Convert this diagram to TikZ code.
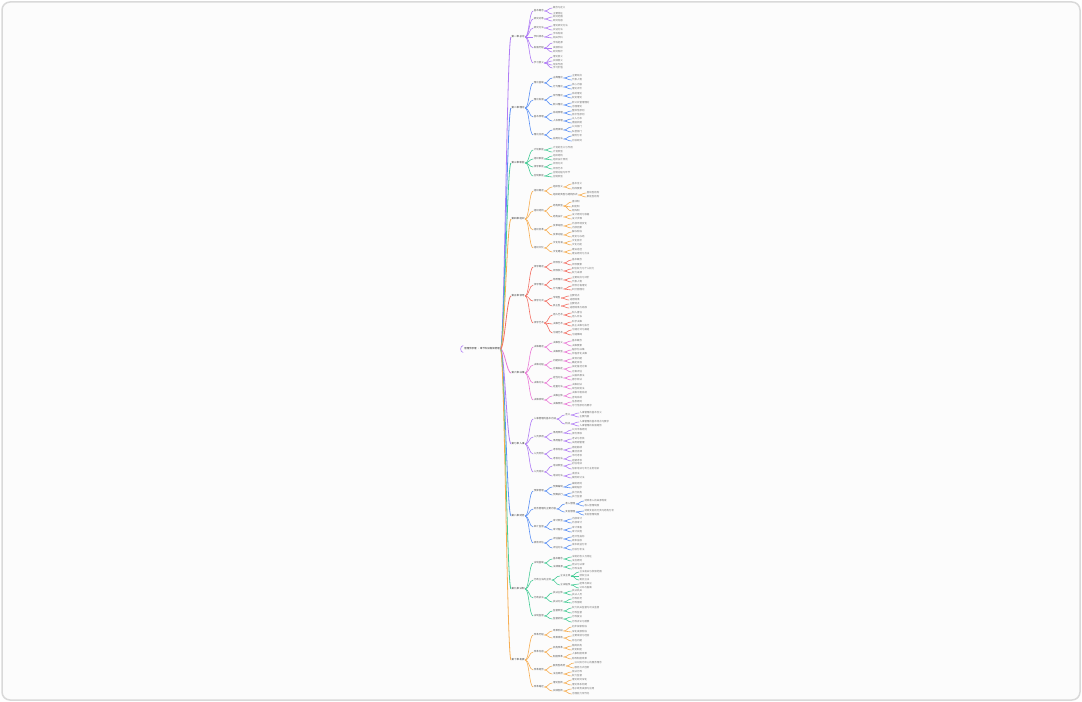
\documentclass[tikz,border=0pt]{standalone}
\usepackage{fontspec}
\setmainfont{Noto Sans CJK SC}
\usepackage{xcolor}
\usetikzlibrary{calc}
\definecolor{cpurple}{HTML}{B07CF5}
\definecolor{cblue}{HTML}{5A90F5}
\definecolor{cteal}{HTML}{45CC96}
\definecolor{corange}{HTML}{F7AE52}
\definecolor{cred}{HTML}{F36E62}
\definecolor{cpink}{HTML}{EA78D6}
\tikzset{
  rootnode/.style={anchor=east, inner sep=0.6mm, text=black!85, font=\fontsize{7}{8}\selectfont},
  mainnode/.style={anchor=west, inner sep=0.6mm, text=black!80, font=\fontsize{7}{8}\selectfont},
  subnode/.style={anchor=west, inner sep=0.6mm, text=black!65, font=\fontsize{7}{8}\selectfont},
  leafnode/.style={anchor=west, inner sep=0.6mm, text=black!55, font=\fontsize{7}{8}\selectfont},
  link/.style={draw=#1, line width=0.6mm, out=0, in=180, distance=4mm}
}
% children of a node: parent, colour, style, list of y/text
\newcommand\kids[4]{%
  \path (#1.east) ++(8,0) coordinate (nx);
  \foreach \y/\t [count=\i] in {#4} {
    \node[#3] (#1\i) at (nx |- 0,\y) {\t};
    \draw[link=#2] (#1) to (#1\i);
  }%
}

\begin{document}
\begin{tikzpicture}[x=1mm, y=-1mm]
\useasboundingbox (0,0) rectangle (1082,702);
\draw[draw=black!15, line width=1.5mm, rounded corners=8mm, fill=black!1] (2,2) rectangle (1080,700);

% root and main branches
\node[rootnode] (root) at (500.5,349) {管理学原理 · 章节知识框架梳理};
\draw[cpurple, line width=0.6mm] ([shift={(-0.5,-3.5)}]root.west) to[out=200,in=90] ([shift={(-3,0)}]root.west)
  to[out=-90,in=160] ([shift={(-0.5,3.5)}]root.west);
\node[mainnode] (brA) at (511,37) {第一章 总论};
\node[mainnode] (brB) at (511,108) {第二章 理论};
\node[mainnode] (brC) at (511,163) {第三章 职能};
\node[mainnode] (brD) at (511,219) {第四章 组织};
\node[mainnode] (brE) at (511,296) {第五章 领导};
\node[mainnode] (brF) at (511,373) {第六章 决策};
\node[mainnode] (brG) at (511,444) {第七章 人事};
\node[mainnode] (brH) at (511,516) {第八章 财务};
\node[mainnode] (brI) at (511,589) {第九章 法制};
\node[mainnode] (brJ) at (511,660) {第十章 发展};
\foreach \b/\c in {A/cpurple, B/cblue, C/cteal, D/corange, E/cred, F/cpink, G/cpurple, H/cblue, I/cteal, J/corange}
  \draw[link=\c, line width=0.8mm] (root) to (br\b);

% branch A
\kids{brA}{cpurple}{subnode}{11/基本概念, 19/研究对象, 28/研究方法, 37/学科体系, 48/发展历程, 63/学习意义}
\kids{brA1}{cpurple}{leafnode}{8/概念与定义, 14/主要特征}
\kids{brA2}{cpurple}{leafnode}{17/研究范围, 21/研究内容}
\kids{brA3}{cpurple}{leafnode}{26/理论研究方法, 30/实证方法}
\kids{brA4}{cpurple}{leafnode}{34/学科构成, 38/相关学科}
\kids{brA5}{cpurple}{leafnode}{43/学科起源, 48/发展阶段, 52/研究现状}
\kids{brA6}{cpurple}{leafnode}{57/理论意义, 61/实践意义, 65/现实作用, 68/学习价值}

% branch B
\kids{brB}{cblue}{subnode}{83/理论基础, 100/理论发展, 117/基本原理, 135/理论应用}
\kids{brB1}{cblue}{subnode}{78/古典理论, 87/行为理论}
\kids{brB2}{cblue}{subnode}{96/现代理论, 105/新兴理论}
\kids{brB3}{cblue}{subnode}{113/系统原理, 121/人本原理}
\kids{brB4}{cblue}{subnode}{130/应用领域, 139/应用方法}
\kids{brB11}{cblue}{leafnode}{76/主要观点, 80/代表人物}
\kids{brB12}{cblue}{leafnode}{85/核心内容, 89/理论评价}
\kids{brB21}{cblue}{leafnode}{94/系统理论, 98/权变理论}
\kids{brB22}{cblue}{leafnode}{103/新公共管理理论, 107/治理理论}
\kids{brB31}{cblue}{leafnode}{111/整体性原则, 115/层次性原则}
\kids{brB32}{cblue}{leafnode}{119/以人为本, 123/激励机制}
\kids{brB41}{cblue}{leafnode}{127/公共部门, 132/私营部门}
\kids{brB42}{cblue}{leafnode}{136/案例分析, 141/比较研究}

% branch C
\kids{brC}{cteal}{subnode}{150/计划职能, 159/组织职能, 167/领导职能, 176/控制职能}
\kids{brC1}{cteal}{leafnode}{148/计划的含义与作用, 152/计划类型}
\kids{brC2}{cteal}{leafnode}{156/组织结构, 160/组织设计原则}
\kids{brC3}{cteal}{leafnode}{164/领导方式, 169/领导艺术}
\kids{brC4}{cteal}{leafnode}{173/控制过程与环节, 177/控制类型}

% branch D
\kids{brD}{corange}{subnode}{191/组织概述, 211/组织结构, 230/组织变革, 248/组织文化}
\kids{brD1}{corange}{subnode}{187/组织含义, 195/组织的类型与结构形式}
\kids{brD2}{corange}{subnode}{206/结构类型, 217/结构设计}
\kids{brD3}{corange}{subnode}{226/变革动因, 235/变革过程}
\kids{brD4}{corange}{subnode}{243/文化内涵, 252/文化建设}
\kids{brD11}{corange}{leafnode}{184/基本含义, 189/构成要素}
\kids{brD12}{corange}{leafnode}{193/直线型结构, 197/职能型结构}
\kids{brD21}{corange}{leafnode}{202/直线制, 207/职能制, 211/矩阵制}
\kids{brD22}{corange}{leafnode}{215/设计原则与依据, 219/设计步骤}
\kids{brD31}{corange}{leafnode}{224/外部环境变化, 228/内部因素}
\kids{brD32}{corange}{leafnode}{232/解冻阶段, 237/改变与冻结}
\kids{brD41}{corange}{leafnode}{241/文化层次, 245/文化功能}
\kids{brD42}{corange}{leafnode}{250/建设途径, 254/建设原则与方法}

% branch E
\kids{brE}{cred}{subnode}{267/领导概述, 285/领导理论, 301/领导方式, 323/领导艺术}
\kids{brE1}{cred}{subnode}{263/领导含义, 271/领导权力}
\kids{brE2}{cred}{subnode}{280/特质理论, 289/行为理论}
\kids{brE3}{cred}{subnode}{298/专制型, 306/民主型}
\kids{brE4}{cred}{subnode}{315/用人艺术, 324/决策艺术, 333/沟通艺术}
\kids{brE11}{cred}{leafnode}{260/基本概念, 265/领导要素}
\kids{brE12}{cred}{leafnode}{269/职位权力与个人权力, 273/权力来源}
\kids{brE21}{cred}{leafnode}{278/主要观点与评价, 282/代表人物}
\kids{brE22}{cred}{leafnode}{286/领导方格理论, 290/四分图理论}
\kids{brE31}{cred}{leafnode}{296/主要特点, 300/适用情境}
\kids{brE32}{cred}{leafnode}{304/主要特点, 308/适用情境与局限}
\kids{brE41}{cred}{leafnode}{313/知人善任, 317/用人所长}
\kids{brE42}{cred}{leafnode}{322/科学决策, 326/民主决策与执行}
\kids{brE43}{cred}{leafnode}{330/沟通方式与渠道, 335/沟通障碍}

% branch F
\kids{brF}{cpink}{subnode}{347/决策概述, 365/决策过程, 383/决策方法, 400/决策体制}
\kids{brF1}{cpink}{subnode}{343/决策含义, 352/决策类型}
\kids{brF2}{cpink}{subnode}{361/问题识别, 369/方案拟定}
\kids{brF3}{cpink}{subnode}{378/定性方法, 387/定量方法}
\kids{brF4}{cpink}{subnode}{396/决策主体, 404/决策原则}
\kids{brF11}{cpink}{leafnode}{341/基本概念, 346/决策要素}
\kids{brF12}{cpink}{leafnode}{350/程序化决策, 354/非程序化决策}
\kids{brF21}{cpink}{leafnode}{359/发现问题, 363/确定目标}
\kids{brF22}{cpink}{leafnode}{367/拟定备选方案, 372/方案评估}
\kids{brF31}{cpink}{leafnode}{376/头脑风暴法, 380/德尔菲法}
\kids{brF32}{cpink}{leafnode}{385/决策树法, 389/线性规划法}
\kids{brF41}{cpink}{leafnode}{393/决策中枢系统, 398/咨询系统}
\kids{brF42}{cpink}{leafnode}{402/信息原则, 406/可行性原则与要求}

% branch G
\kids{brG}{cpurple}{subnode}{419/人事管理的基本内涵, 437/人员录用, 454/人员考核, 472/人员培训}
\kids{brG1}{cpurple}{subnode}{415/含义, 424/特点}
\kids{brG2}{cpurple}{subnode}{433/录用原则, 441/录用程序}
\kids{brG3}{cpurple}{subnode}{450/考核内容, 459/考核方法}
\kids{brG4}{cpurple}{subnode}{466/培训类型, 476/培训方法}
\kids{brG11}{cpurple}{leafnode}{413/人事管理的基本含义, 417/主要内容}
\kids{brG12}{cpurple}{leafnode}{422/人事管理的基本特点与要求, 426/人事管理的发展趋势}
\kids{brG21}{cpurple}{leafnode}{430/公开平等原则, 434/择优录取}
\kids{brG22}{cpurple}{leafnode}{439/考试与考核, 443/试用期管理}
\kids{brG31}{cpurple}{leafnode}{448/德能勤绩, 452/廉洁自律}
\kids{brG32}{cpurple}{leafnode}{456/平时考核, 461/定期考核}
\kids{brG41}{cpurple}{leafnode}{464/初任培训, 469/任职培训与专门业务培训}
\kids{brG42}{cpurple}{leafnode}{474/讲授法, 478/案例研讨法}

% branch H
\kids{brH}{cblue}{subnode}{491/预算管理, 509/财务管理的主要内容, 527/审计监督, 543/绩效评估}
\kids{brH1}{cblue}{subnode}{487/预算编制, 495/预算执行}
\kids{brH2}{cblue}{subnode}{504/收入管理, 512/支出管理}
\kids{brH3}{cblue}{subnode}{521/审计类型, 530/审计程序}
\kids{brH4}{cblue}{subnode}{539/评估指标, 548/评估方法}
\kids{brH11}{cblue}{leafnode}{484/编制原则, 488/编制程序}
\kids{brH12}{cblue}{leafnode}{493/执行机构, 497/执行监督}
\kids{brH21}{cblue}{leafnode}{501/财政收入的来源构成, 506/收入管理制度}
\kids{brH22}{cblue}{leafnode}{511/财政支出的分类与结构分析, 515/支出管理制度}
\kids{brH31}{cblue}{leafnode}{519/内部审计, 523/外部审计}
\kids{brH32}{cblue}{leafnode}{528/审计准备, 532/审计实施}
\kids{brH41}{cblue}{leafnode}{537/经济性指标, 541/效率指标}
\kids{brH42}{cblue}{leafnode}{545/成本收益分析, 550/比较分析法}

% branch I
\kids{brI}{cteal}{subnode}{563/法制基础, 580/行政立法的主体, 598/行政执法, 616/法制监督}
\kids{brI1}{cteal}{subnode}{559/基本概念, 567/法律渊源}
\kids{brI2}{cteal}{subnode}{576/立法主体, 585/立法程序}
\kids{brI3}{cteal}{subnode}{593/执法主体, 602/执法方式}
\kids{brI4}{cteal}{subnode}{611/监督类型, 619/监督机制}
\kids{brI11}{cteal}{leafnode}{557/法制的含义与特征, 561/法治原则}
\kids{brI12}{cteal}{leafnode}{565/宪法与法律, 569/行政法规}
\kids{brI21}{cteal}{leafnode}{572/立法机关与权限范围, 576/授权立法, 580/委托立法}
\kids{brI22}{cteal}{leafnode}{584/起草与审议, 588/公布与备案}
\kids{brI31}{cteal}{leafnode}{591/执法机关, 595/执法人员}
\kids{brI32}{cteal}{leafnode}{599/行政处罚, 603/行政强制}
\kids{brI41}{cteal}{leafnode}{608/权力机关监督与司法监督, 613/行政监督}
\kids{brI42}{cteal}{leafnode}{617/行政复议, 622/行政诉讼与赔偿}

% branch J
\kids{brJ}{corange}{subnode}{635/改革历程, 652/改革内容, 670/改革趋势, 687/改革路径}
\kids{brJ1}{corange}{subnode}{631/改革阶段, 638/改革成效}
\kids{brJ2}{corange}{subnode}{648/机构改革, 657/制度改革}
\kids{brJ3}{corange}{subnode}{666/服务型政府, 674/法治政府}
\kids{brJ4}{corange}{subnode}{683/理论创新, 691/实践创新}
\kids{brJ11}{corange}{leafnode}{627/初步探索阶段, 632/深化发展阶段}
\kids{brJ12}{corange}{leafnode}{636/主要成就与经验, 641/存在问题}
\kids{brJ21}{corange}{leafnode}{646/精简机构, 650/转变职能}
\kids{brJ22}{corange}{leafnode}{654/人事制度改革, 659/财政制度改革}
\kids{brJ31}{corange}{leafnode}{663/以公民为中心的服务理念, 668/服务方式创新}
\kids{brJ32}{corange}{leafnode}{672/依法行政, 676/权力监督}
\kids{brJ41}{corange}{leafnode}{680/理论研究深化, 685/理论体系构建}
\kids{brJ42}{corange}{leafnode}{689/电子政务发展与应用, 694/治理能力现代化}
\end{tikzpicture}
\end{document}
